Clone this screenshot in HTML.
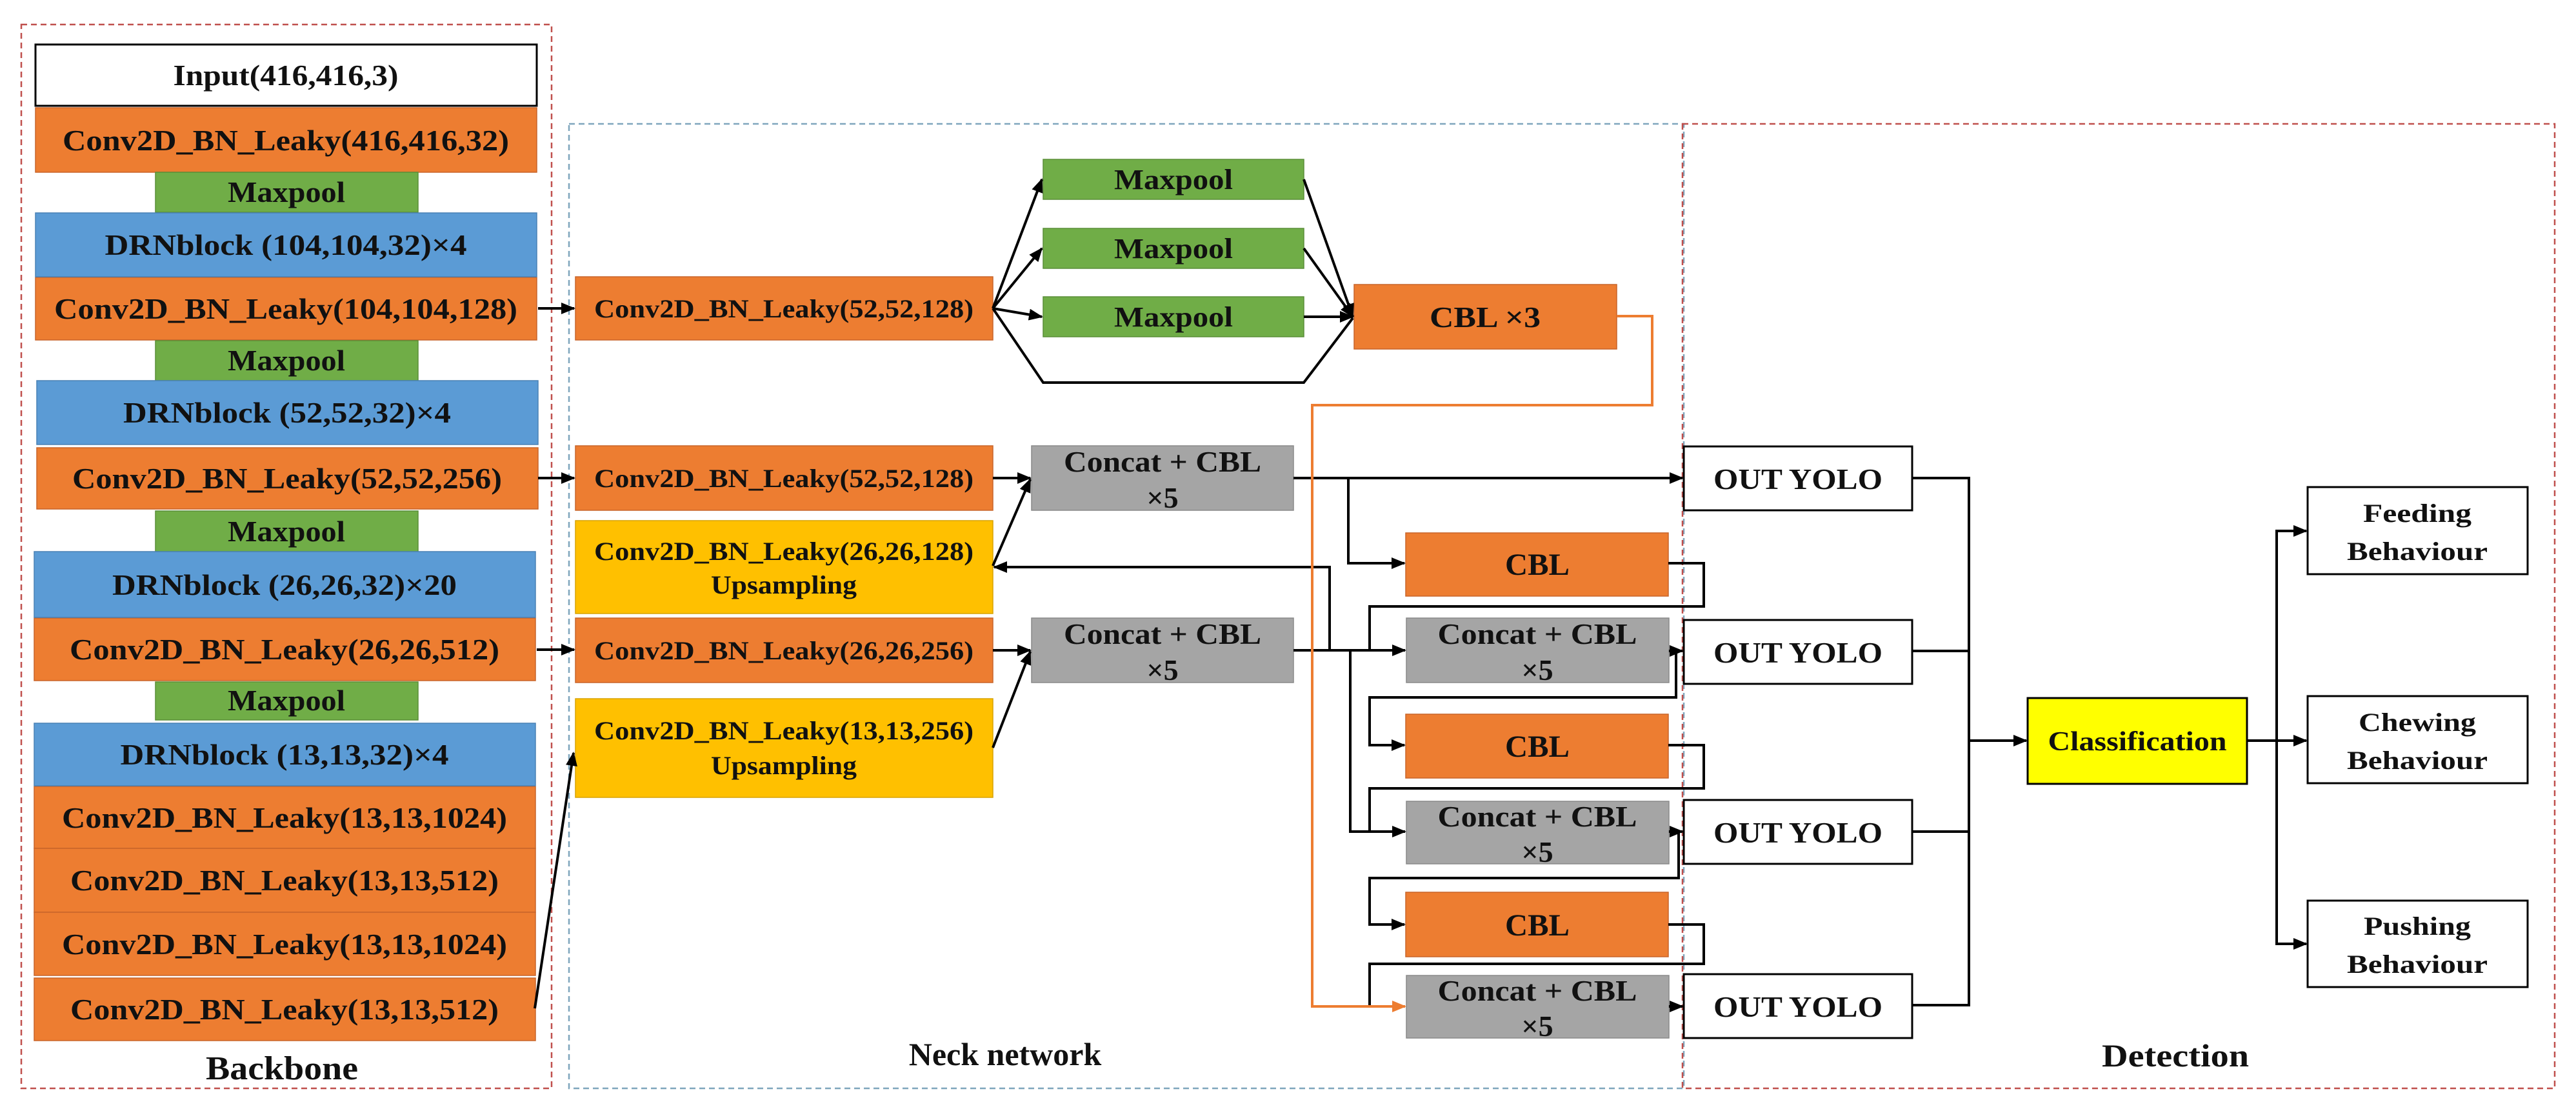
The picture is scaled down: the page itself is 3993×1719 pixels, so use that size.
<!DOCTYPE html>
<html><head><meta charset="utf-8"><style>
html,body{margin:0;padding:0;background:#fff;}
svg{display:block;}
text{font-family:"Liberation Serif",serif;font-weight:bold;fill:#111;}
</style></head><body>
<svg width="3993" height="1719" viewBox="0 0 3993 1719" xmlns="http://www.w3.org/2000/svg">
<defs>
<marker id="a" markerUnits="userSpaceOnUse" markerWidth="22" markerHeight="18" refX="20" refY="9" orient="auto"><path d="M0,0 L22,9 L0,18 z" fill="#000"/></marker>
<marker id="ao" markerUnits="userSpaceOnUse" markerWidth="22" markerHeight="18" refX="20" refY="9" orient="auto"><path d="M0,0 L22,9 L0,18 z" fill="#ed7d31"/></marker>
</defs>

<!-- group frames -->
<rect x="33" y="38" width="822" height="1649" fill="none" stroke="#c0504d" stroke-width="2.5" stroke-dasharray="9 6"/>
<rect x="882" y="192" width="1728" height="1495" fill="none" stroke="#7fa6bd" stroke-width="2.5" stroke-dasharray="9 6"/>
<rect x="2608" y="192" width="1352" height="1495" fill="none" stroke="#c0504d" stroke-width="2.5" stroke-dasharray="9 6"/>

<!-- Backbone -->
<rect x="55" y="69" width="777" height="95" fill="#fff" stroke="#000" stroke-width="3"/>
<text x="443" y="132" font-size="46" text-anchor="middle" textLength="349" lengthAdjust="spacingAndGlyphs">Input(416,416,3)</text>
<g fill="#ed7d31" stroke="#c8652a" stroke-width="1.5">
<rect x="55" y="167" width="777" height="100"/>
<rect x="55" y="430" width="777" height="97"/>
<rect x="57" y="694" width="777" height="95"/>
<rect x="53" y="958" width="777" height="97"/>
<rect x="53" y="1219" width="777" height="96"/>
<rect x="53" y="1315" width="777" height="99"/>
<rect x="53" y="1414" width="777" height="98"/>
<rect x="53" y="1516" width="777" height="97"/>
</g>
<g fill="#70ad47" stroke="#5a8f38" stroke-width="1.5">
<rect x="241" y="267" width="407" height="62"/>
<rect x="241" y="528" width="407" height="62"/>
<rect x="241" y="792" width="407" height="63"/>
<rect x="241" y="1057" width="407" height="59"/>
</g>
<g fill="#5b9bd5" stroke="#4a82b5" stroke-width="1.5">
<rect x="55" y="330" width="777" height="99"/>
<rect x="57" y="590" width="777" height="99"/>
<rect x="53" y="855" width="777" height="102"/>
<rect x="53" y="1121" width="777" height="97"/>
</g>
<g font-size="46" text-anchor="middle">
<text x="443" y="233" textLength="692" lengthAdjust="spacingAndGlyphs">Conv2D_BN_Leaky(416,416,32)</text>
<text x="444" y="313" textLength="182" lengthAdjust="spacingAndGlyphs">Maxpool</text>
<text x="443" y="395" textLength="561" lengthAdjust="spacingAndGlyphs">DRNblock (104,104,32)×4</text>
<text x="443" y="494" textLength="718" lengthAdjust="spacingAndGlyphs">Conv2D_BN_Leaky(104,104,128)</text>
<text x="444" y="574" textLength="182" lengthAdjust="spacingAndGlyphs">Maxpool</text>
<text x="445" y="655" textLength="508" lengthAdjust="spacingAndGlyphs">DRNblock (52,52,32)×4</text>
<text x="445" y="757" textLength="666" lengthAdjust="spacingAndGlyphs">Conv2D_BN_Leaky(52,52,256)</text>
<text x="444" y="839" textLength="182" lengthAdjust="spacingAndGlyphs">Maxpool</text>
<text x="441" y="922" textLength="534" lengthAdjust="spacingAndGlyphs">DRNblock (26,26,32)×20</text>
<text x="441" y="1022" textLength="666" lengthAdjust="spacingAndGlyphs">Conv2D_BN_Leaky(26,26,512)</text>
<text x="444" y="1101" textLength="182" lengthAdjust="spacingAndGlyphs">Maxpool</text>
<text x="441" y="1185" textLength="509" lengthAdjust="spacingAndGlyphs">DRNblock (13,13,32)×4</text>
<text x="441" y="1283" textLength="690" lengthAdjust="spacingAndGlyphs">Conv2D_BN_Leaky(13,13,1024)</text>
<text x="441" y="1380" textLength="664" lengthAdjust="spacingAndGlyphs">Conv2D_BN_Leaky(13,13,512)</text>
<text x="441" y="1479" textLength="690" lengthAdjust="spacingAndGlyphs">Conv2D_BN_Leaky(13,13,1024)</text>
<text x="441" y="1580" textLength="664" lengthAdjust="spacingAndGlyphs">Conv2D_BN_Leaky(13,13,512)</text>
</g>
<text x="437" y="1673" font-size="52" text-anchor="middle" textLength="236" lengthAdjust="spacingAndGlyphs">Backbone</text>

<!-- Neck boxes -->
<g fill="#ed7d31" stroke="#c8652a" stroke-width="1.5">
<rect x="892" y="429" width="647" height="98"/>
<rect x="2099" y="441" width="407" height="100"/>
<rect x="892" y="691" width="647" height="100"/>
<rect x="892" y="958" width="647" height="100"/>
<rect x="2179" y="826" width="407" height="98"/>
<rect x="2179" y="1107" width="407" height="99"/>
<rect x="2179" y="1383" width="407" height="100"/>
</g>
<g fill="#ffc000" stroke="#d9a300" stroke-width="1.5">
<rect x="892" y="807" width="647" height="144"/>
<rect x="892" y="1083" width="647" height="153"/>
</g>
<g fill="#70ad47" stroke="#5a8f38" stroke-width="1.5">
<rect x="1617" y="247" width="404" height="62"/>
<rect x="1617" y="354" width="404" height="62"/>
<rect x="1617" y="460" width="404" height="62"/>
</g>
<g fill="#a5a5a5" stroke="#8a8a8a" stroke-width="1.5">
<rect x="1599" y="691" width="406" height="100"/>
<rect x="1599" y="958" width="406" height="100"/>
<rect x="2180" y="958" width="407" height="100"/>
<rect x="2180" y="1242" width="407" height="97"/>
<rect x="2180" y="1512" width="407" height="97"/>
</g>
<g text-anchor="middle">
<text x="1215" y="492" font-size="40" textLength="588" lengthAdjust="spacingAndGlyphs">Conv2D_BN_Leaky(52,52,128)</text>
<text x="1819" y="293" font-size="44" textLength="184" lengthAdjust="spacingAndGlyphs">Maxpool</text>
<text x="1819" y="400" font-size="44" textLength="184" lengthAdjust="spacingAndGlyphs">Maxpool</text>
<text x="1819" y="506" font-size="44" textLength="184" lengthAdjust="spacingAndGlyphs">Maxpool</text>
<text x="2302" y="507" font-size="46" textLength="172" lengthAdjust="spacingAndGlyphs">CBL ×3</text>
<text x="1215" y="755" font-size="40" textLength="588" lengthAdjust="spacingAndGlyphs">Conv2D_BN_Leaky(52,52,128)</text>
<text x="1215" y="868" font-size="40" textLength="588" lengthAdjust="spacingAndGlyphs">Conv2D_BN_Leaky(26,26,128)</text>
<text x="1215" y="920" font-size="40" textLength="226" lengthAdjust="spacingAndGlyphs">Upsampling</text>
<text x="1215" y="1022" font-size="40" textLength="588" lengthAdjust="spacingAndGlyphs">Conv2D_BN_Leaky(26,26,256)</text>
<text x="1215" y="1146" font-size="40" textLength="588" lengthAdjust="spacingAndGlyphs">Conv2D_BN_Leaky(13,13,256)</text>
<text x="1215" y="1200" font-size="40" textLength="226" lengthAdjust="spacingAndGlyphs">Upsampling</text>
<text x="1802" y="731" font-size="46" textLength="306" lengthAdjust="spacingAndGlyphs">Concat + CBL</text>
<text x="1802" y="787" font-size="46">×5</text>
<text x="1802" y="998" font-size="46" textLength="306" lengthAdjust="spacingAndGlyphs">Concat + CBL</text>
<text x="1802" y="1054" font-size="46">×5</text>
<text x="2383" y="891" font-size="48" textLength="100" lengthAdjust="spacingAndGlyphs">CBL</text>
<text x="2383" y="998" font-size="46" textLength="309" lengthAdjust="spacingAndGlyphs">Concat + CBL</text>
<text x="2383" y="1054" font-size="46">×5</text>
<text x="2383" y="1173" font-size="48" textLength="100" lengthAdjust="spacingAndGlyphs">CBL</text>
<text x="2383" y="1281" font-size="46" textLength="309" lengthAdjust="spacingAndGlyphs">Concat + CBL</text>
<text x="2383" y="1336" font-size="46">×5</text>
<text x="2383" y="1450" font-size="48" textLength="100" lengthAdjust="spacingAndGlyphs">CBL</text>
<text x="2383" y="1551" font-size="46" textLength="309" lengthAdjust="spacingAndGlyphs">Concat + CBL</text>
<text x="2383" y="1606" font-size="46">×5</text>
</g>
<text x="1558" y="1651" font-size="50" text-anchor="middle">Neck network</text>

<!-- Detection boxes -->
<g fill="#fff" stroke="#000" stroke-width="3">
<rect x="2610" y="692" width="354" height="99"/>
<rect x="2610" y="961" width="354" height="99"/>
<rect x="2610" y="1240" width="354" height="99"/>
<rect x="2610" y="1510" width="354" height="99"/>
<rect x="3577" y="755" width="341" height="135"/>
<rect x="3577" y="1079" width="341" height="135"/>
<rect x="3577" y="1396" width="341" height="134"/>
</g>
<rect x="3143" y="1082" width="340" height="133" fill="#ffff00" stroke="#000" stroke-width="3"/>
<g text-anchor="middle">
<text x="2787" y="758" font-size="46" textLength="262" lengthAdjust="spacingAndGlyphs">OUT YOLO</text>
<text x="2787" y="1027" font-size="46" textLength="262" lengthAdjust="spacingAndGlyphs">OUT YOLO</text>
<text x="2787" y="1306" font-size="46" textLength="262" lengthAdjust="spacingAndGlyphs">OUT YOLO</text>
<text x="2787" y="1576" font-size="46" textLength="262" lengthAdjust="spacingAndGlyphs">OUT YOLO</text>
<text x="3313" y="1163" font-size="42" textLength="277" lengthAdjust="spacingAndGlyphs">Classification</text>
<text x="3747" y="809" font-size="40" textLength="168" lengthAdjust="spacingAndGlyphs">Feeding</text>
<text x="3747" y="868" font-size="40" textLength="218" lengthAdjust="spacingAndGlyphs">Behaviour</text>
<text x="3747" y="1133" font-size="40" textLength="182" lengthAdjust="spacingAndGlyphs">Chewing</text>
<text x="3747" y="1192" font-size="40" textLength="218" lengthAdjust="spacingAndGlyphs">Behaviour</text>
<text x="3747" y="1449" font-size="40" textLength="166" lengthAdjust="spacingAndGlyphs">Pushing</text>
<text x="3747" y="1508" font-size="40" textLength="218" lengthAdjust="spacingAndGlyphs">Behaviour</text>
</g>
<text x="3372" y="1653" font-size="50" text-anchor="middle" textLength="228" lengthAdjust="spacingAndGlyphs">Detection</text>

<!-- Connectors -->
<g fill="none" stroke="#000" stroke-width="4">
<!-- backbone to neck -->
<line x1="834" y1="478" x2="890" y2="478" marker-end="url(#a)"/>
<line x1="834" y1="741" x2="890" y2="741" marker-end="url(#a)"/>
<line x1="832" y1="1007" x2="890" y2="1007" marker-end="url(#a)"/>
<line x1="829" y1="1563" x2="889" y2="1167" marker-end="url(#a)"/>
<!-- SPP fan -->
<line x1="1539" y1="478" x2="1615" y2="278" marker-end="url(#a)"/>
<line x1="1539" y1="478" x2="1615" y2="385" marker-end="url(#a)"/>
<line x1="1539" y1="478" x2="1615" y2="491" marker-end="url(#a)"/>
<polyline points="1539,478 1617,593 2021,593 2097,493"/>
<line x1="2021" y1="278" x2="2097" y2="491" marker-end="url(#a)"/>
<line x1="2021" y1="385" x2="2097" y2="491" marker-end="url(#a)"/>
<line x1="2021" y1="491" x2="2097" y2="491" marker-end="url(#a)"/>
<!-- into concat col1 -->
<line x1="1539" y1="741" x2="1597" y2="741" marker-end="url(#a)"/>
<line x1="1539" y1="877" x2="1597" y2="743" marker-end="url(#a)"/>
<line x1="1539" y1="1008" x2="1597" y2="1008" marker-end="url(#a)"/>
<line x1="1539" y1="1159" x2="1597" y2="1010" marker-end="url(#a)"/>
<!-- concat1 out -->
<line x1="2005" y1="741" x2="2608" y2="741" marker-end="url(#a)"/>
<polyline points="2090,741 2090,873 2177,873" marker-end="url(#a)"/>
<!-- upsampling back -->
<polyline points="2061,1008 2061,879 1541,879" marker-end="url(#a)"/>
<!-- concat2 out -->
<line x1="2005" y1="1008" x2="2178" y2="1008" marker-end="url(#a)"/>
<polyline points="2093,1008 2093,1289 2178,1289" marker-end="url(#a)"/>
<!-- CBL1 feedback -->
<polyline points="2586,873 2641,873 2641,940 2123,940 2123,1008"/>
<!-- concat col2 #1 out -->
<line x1="2587" y1="1009" x2="2608" y2="1009" marker-end="url(#a)"/>
<polyline points="2598,1009 2598,1081 2123,1081 2123,1155 2177,1155" marker-end="url(#a)"/>
<polyline points="2586,1155 2641,1155 2641,1222 2123,1222 2123,1289"/>
<!-- concat #3 out -->
<line x1="2587" y1="1289" x2="2608" y2="1289" marker-end="url(#a)"/>
<polyline points="2602,1289 2602,1361 2123,1361 2123,1433 2177,1433" marker-end="url(#a)"/>
<polyline points="2586,1433 2641,1433 2641,1494 2123,1494 2123,1560"/>
<line x1="2587" y1="1560" x2="2608" y2="1560" marker-end="url(#a)"/>
<!-- detection -->
<polyline points="2964,741 3052,741 3052,1558 2964,1558"/>
<line x1="2964" y1="1009" x2="3052" y2="1009"/>
<line x1="2964" y1="1289" x2="3052" y2="1289"/>
<line x1="3052" y1="1148" x2="3141" y2="1148" marker-end="url(#a)"/>
<line x1="3483" y1="1148" x2="3575" y2="1148" marker-end="url(#a)"/>
<polyline points="3575,823 3529,823 3529,1463 3575,1463"/>
<line x1="3529" y1="823" x2="3575" y2="823" marker-end="url(#a)"/>
<line x1="3529" y1="1463" x2="3575" y2="1463" marker-end="url(#a)"/>
</g>
<!-- orange route -->
<polyline points="2506,490 2561,490 2561,628 2034,628 2034,1560 2178,1560" fill="none" stroke="#ed7d31" stroke-width="4" marker-end="url(#ao)"/>
</svg>
</body></html>
